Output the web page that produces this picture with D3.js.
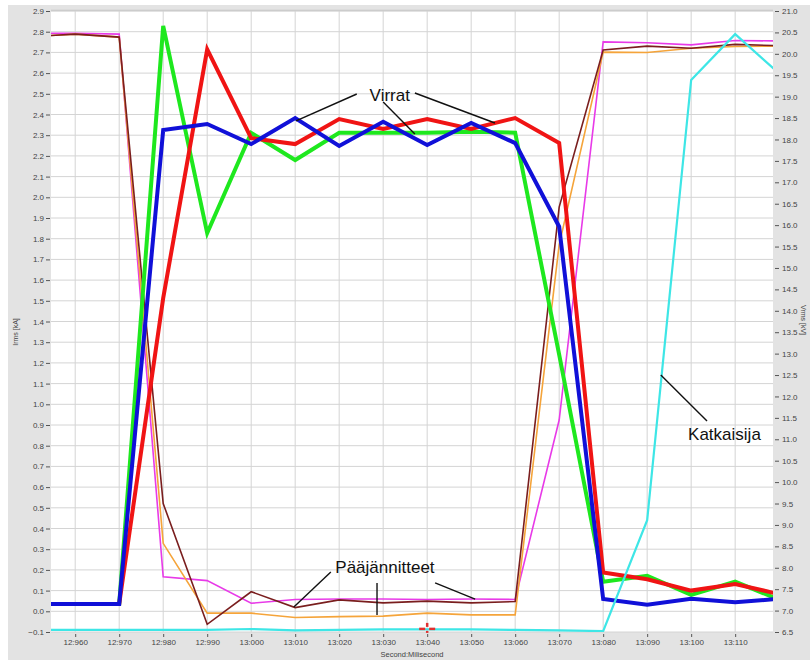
<!DOCTYPE html>
<html>
<head>
<meta charset="utf-8">
<script src="https://cdn.jsdelivr.net/npm/d3@7"></script>
<style>
  body { margin: 0; background: #fff; }
  svg { display: block; font-family: "Liberation Sans", Arial, sans-serif; }
</style>
</head>
<body>
<svg id="chart" width="810" height="662"></svg>
<script>
// sample times (ms, 12950 = 12:950)
const times = [12950, 12960, 12970, 12980, 12990, 13000, 13010, 13020, 13030,
  13040, 13050, 13060, 13070, 13080, 13090, 13100, 13110, 13120];

// currents, kA (left axis)
const iGreen = [0.035, 0.035, 0.035, 2.828, 1.827, 2.311, 2.18, 2.312, 2.312,
  2.312, 2.317, 2.312, 1.24, 0.143, 0.172, 0.079, 0.143, 0.056];
const iRed = [0.035, 0.035, 0.035, 1.513, 2.715, 2.286, 2.257, 2.378, 2.33,
  2.378, 2.33, 2.383, 2.262, 0.187, 0.155, 0.1, 0.132, 0.083];
const iBlue = [0.035, 0.035, 0.035, 2.325, 2.354, 2.257, 2.383, 2.248, 2.365,
  2.253, 2.359, 2.262, 1.858, 0.06, 0.032, 0.06, 0.044, 0.06];

// voltages, kV (right axis)
const uMagenta = [20.48, 20.48, 20.46, 7.79, 7.70, 7.17, 7.26, 7.27, 7.27,
  7.26, 7.27, 7.26, 11.45, 20.28, 20.26, 20.21, 20.31, 20.30];
const uOrange = [20.40, 20.46, 20.39, 8.57, 6.94, 6.94, 6.84, 6.86, 6.87,
  6.94, 6.90, 6.90, 15.54, 20.04, 20.03, 20.13, 20.17, 20.18];
const uBrown = [20.40, 20.46, 20.39, 9.50, 6.68, 7.44, 7.07, 7.25, 7.18,
  7.22, 7.18, 7.21, 16.42, 20.09, 20.18, 20.13, 20.22, 20.19];
const uBreaker = [6.55, 6.55, 6.55, 6.55, 6.55, 6.57, 6.54, 6.55, 6.56,
  6.56, 6.56, 6.55, 6.54, 6.52, 9.11, 19.39, 20.46, 19.54];

// ticks
const xTicks = [12960, 12970, 12980, 12990, 13000, 13010, 13020, 13030,
  13040, 13050, 13060, 13070, 13080, 13090, 13100, 13110];
const leftTicks = d3.range(-1, 30).map(d => d / 10);
const rightTicks = d3.range(13, 43).map(d => d / 2);

const svg = d3.select("#chart");
const plot = {left: 51, right: 773, top: 11, bottom: 632};

const x = d3.scaleLinear().domain([12954.5, 13118.6]).range([plot.left, plot.right]);
const yL = d3.scaleLinear().domain([-0.1, 2.9]).range([plot.bottom, plot.top]);
const yR = d3.scaleLinear().domain([6.5, 21.0]).range([plot.bottom, plot.top]);

// frame
svg.append("rect").attr("x", 8).attr("y", 5).attr("width", 802).attr("height", 655)
  .attr("fill", "#e3e3e3");
svg.append("rect").attr("x", plot.left).attr("y", plot.top)
  .attr("width", plot.right - plot.left).attr("height", plot.bottom - plot.top)
  .attr("fill", "#fff");
svg.append("line").attr("x1", plot.left).attr("x2", plot.right)
  .attr("y1", plot.top - 0.5).attr("y2", plot.top - 0.5)
  .attr("stroke", "#c4c4c4").attr("stroke-width", 1.5);

// grid
const grid = svg.append("g");
grid.selectAll(".gx").data(xTicks).enter().append("line")
  .attr("x1", d => x(d)).attr("x2", d => x(d))
  .attr("y1", plot.top).attr("y2", plot.bottom)
  .attr("stroke", "#d4d4d4").attr("stroke-width", 1);
grid.selectAll(".gy").data(leftTicks).enter().append("line")
  .attr("x1", plot.left).attr("x2", plot.right)
  .attr("y1", d => yL(d)).attr("y2", d => yL(d))
  .attr("stroke", "#d4d4d4").attr("stroke-width", 1);

// axes
const fmtX = t => Math.floor(t / 1000) + ":" + String(t % 1000).padStart(3, "0");

const axL = svg.append("g").attr("transform", "translate(" + (plot.left - 1) + ",0)")
  .call(d3.axisLeft(yL).tickValues(leftTicks).tickFormat(d3.format(".1f"))
    .tickSize(4).tickPadding(2));
const axR = svg.append("g").attr("transform", "translate(" + (plot.right + 2) + ",0)")
  .call(d3.axisRight(yR).tickValues(rightTicks).tickFormat(d3.format(".1f"))
    .tickSize(4).tickPadding(3));
const axX = svg.append("g").attr("transform", "translate(0," + (plot.bottom + 2) + ")")
  .call(d3.axisBottom(x).tickValues(xTicks).tickFormat(fmtX)
    .tickSize(3).tickPadding(2));

[axL, axR, axX].forEach(ax => {
  ax.select(".domain").remove();
  ax.selectAll(".tick line").attr("stroke", "#555");
  ax.selectAll(".tick text").attr("fill", "#444").attr("font-size", 8)
    .attr("font-family", "\"Liberation Sans\", Arial, sans-serif");
});

// axis titles
svg.append("text").attr("transform", "translate(18,332) rotate(-90)")
  .attr("text-anchor", "middle").attr("font-size", 7).attr("fill", "#444")
  .text("Irms [kA]");
svg.append("text").attr("transform", "translate(801,320) rotate(90)")
  .attr("text-anchor", "middle").attr("font-size", 7).attr("fill", "#444")
  .text("Vrms [kV]");
svg.append("text").attr("x", 412).attr("y", 657)
  .attr("text-anchor", "middle").attr("font-size", 7.5).attr("fill", "#444")
  .text("Second:Milisecond");

// lines
svg.append("clipPath").attr("id", "clip").append("rect")
  .attr("x", plot.left).attr("y", plot.top - 5)
  .attr("width", plot.right - plot.left).attr("height", plot.bottom - plot.top + 5);

const lines = svg.append("g").attr("clip-path", "url(#clip)");
const lineL = d3.line().x((d, i) => x(times[i])).y(d => yL(d));
const lineR = d3.line().x((d, i) => x(times[i])).y(d => yR(d));

const series = [
  {data: uMagenta, gen: lineR, color: "#e83ae8", width: 1.6},
  {data: uOrange, gen: lineR, color: "#f5a43a", width: 1.6},
  {data: uBrown, gen: lineR, color: "#7a1e1e", width: 1.6},
  {data: iGreen, gen: lineL, color: "#1ee81e", width: 4},
  {data: iRed, gen: lineL, color: "#f01414", width: 4},
  {data: iBlue, gen: lineL, color: "#1010d8", width: 4},
  {data: uBreaker, gen: lineR, color: "#3ee6e6", width: 2.2}
];

series.forEach(s => {
  lines.append("path")
    .datum(s.data)
    .attr("fill", "none")
    .attr("stroke", s.color)
    .attr("stroke-width", s.width)
    .attr("stroke-linejoin", "miter")
    .attr("d", s.gen);
});

// red cursor marker at 13:040
const cx = x(13040), cy = yL(-0.085);
const mark = svg.append("g").attr("stroke", "#e03030").attr("stroke-width", 2.5);
mark.append("line").attr("x1", cx - 8).attr("x2", cx - 2).attr("y1", cy).attr("y2", cy);
mark.append("line").attr("x1", cx + 2).attr("x2", cx + 8).attr("y1", cy).attr("y2", cy);
mark.append("line").attr("x1", cx).attr("x2", cx).attr("y1", cy - 6).attr("y2", cy - 2);
mark.append("line").attr("x1", cx).attr("x2", cx).attr("y1", cy + 2).attr("y2", cy + 4);

// annotations (positions in data space)
const notes = [
  {text: "Virrat", t: 13031.5, v: 2.465, anchor: "middle",
    leads: [[13024.0, 2.499, 13010.2, 2.369], [13030.0, 2.460, 13037.2, 2.306],
      [13037.2, 2.504, 13055.4, 2.359]]},
  {text: "Pääjännitteet", t: 13030.4, v: 0.185, anchor: "middle",
    leads: [[13018.1, 0.190, 13009.7, 0.021], [13028.6, 0.137, 13028.6, -0.018],
      [13041.8, 0.137, 13050.9, 0.059]]},
  {text: "Katkaisija", t: 13099.3, v: 0.828, anchor: "start",
    leads: [[13093.1, 1.142, 13103.6, 0.919]]}
];

const ann = svg.append("g");
notes.forEach(n => {
  ann.append("text")
    .attr("x", x(n.t)).attr("y", yL(n.v))
    .attr("text-anchor", n.anchor)
    .attr("font-size", 17).attr("fill", "#111")
    .text(n.text);
  n.leads.forEach(l => {
    ann.append("line")
      .attr("x1", x(l[0])).attr("y1", yL(l[1]))
      .attr("x2", x(l[2])).attr("y2", yL(l[3]))
      .attr("stroke", "#111").attr("stroke-width", 1.4);
  });
});
</script>
</body>
</html>
